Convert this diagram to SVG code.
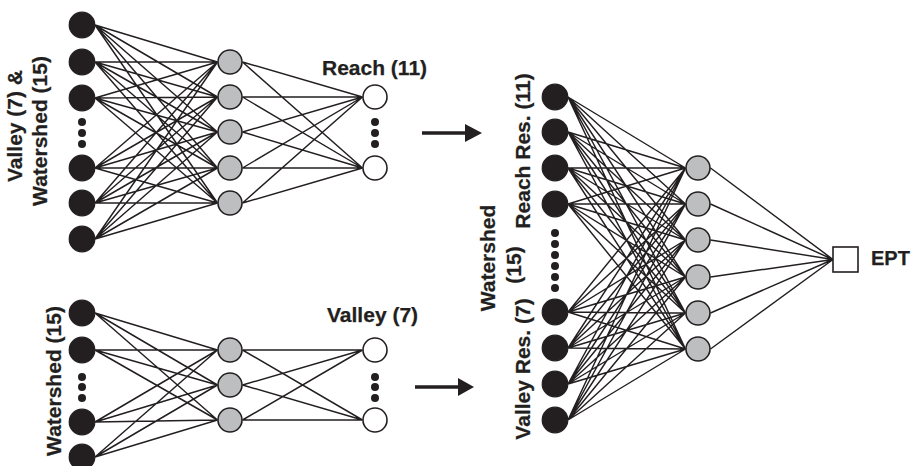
<svg xmlns="http://www.w3.org/2000/svg" width="911" height="466" viewBox="0 0 911 466">
<style>
.in{fill:#231f20;stroke:#231f20;stroke-width:1.2}
.hid{fill:#bcbec0;stroke:#231f20;stroke-width:1.6}
.out{fill:#fff;stroke:#231f20;stroke-width:1.6}
.dot{fill:#231f20}
.edge{fill:none;stroke:#231f20;stroke-width:1.45}
.arr{stroke:#231f20;stroke-width:3.5}
.head{fill:#231f20}
text{font-family:"Liberation Sans",Arial,sans-serif;font-weight:bold;font-size:21px;fill:#231f20;stroke:#231f20;stroke-width:0.25}
</style>
<rect width="911" height="466" fill="#fff"/>
<g id="connectors">
<path class="edge" d="M95 25L217.5 62M95 25L217.5 97M95 25L217.5 132M95 25L217.5 168M95 25L217.5 203
M95 62L217.5 62M95 62L217.5 97M95 62L217.5 132M95 62L217.5 168M95 62L217.5 203
M95 98L217.5 62M95 98L217.5 97M95 98L217.5 132M95 98L217.5 168M95 98L217.5 203
M95 168L217.5 62M95 168L217.5 97M95 168L217.5 132M95 168L217.5 168M95 168L217.5 203
M95 203L217.5 62M95 203L217.5 97M95 203L217.5 132M95 203L217.5 168M95 203L217.5 203
M95 239L217.5 62M95 239L217.5 97M95 239L217.5 132M95 239L217.5 168M95 239L217.5 203
M242.5 62L362.5 97M242.5 62L362.5 168M242.5 97L362.5 97M242.5 97L362.5 168M242.5 132L362.5 97M242.5 132L362.5 168
M242.5 168L362.5 97M242.5 168L362.5 168M242.5 203L362.5 97M242.5 203L362.5 168"/>
<path class="edge" d="M95 313L217.5 350M95 313L217.5 385M95 313L217.5 420
M95 350L217.5 350M95 350L217.5 385M95 350L217.5 420
M95 422L217.5 350M95 422L217.5 385M95 422L217.5 420
M95 457L217.5 350M95 457L217.5 385M95 457L217.5 420
M242.5 350L362.5 350M242.5 350L362.5 420M242.5 385L362.5 350M242.5 385L362.5 420M242.5 420L362.5 350M242.5 420L362.5 420"/>
<path class="edge" d="M568 97L685.5 168M568 97L685.5 204M568 97L685.5 240M568 97L685.5 277M568 97L685.5 313M568 97L685.5 349
M568 132L685.5 168M568 132L685.5 204M568 132L685.5 240M568 132L685.5 277M568 132L685.5 313M568 132L685.5 349
M568 168L685.5 168M568 168L685.5 204M568 168L685.5 240M568 168L685.5 277M568 168L685.5 313M568 168L685.5 349
M568 204L685.5 168M568 204L685.5 204M568 204L685.5 240M568 204L685.5 277M568 204L685.5 313M568 204L685.5 349
M568 312L685.5 168M568 312L685.5 204M568 312L685.5 240M568 312L685.5 277M568 312L685.5 313M568 312L685.5 349
M568 348L685.5 168M568 348L685.5 204M568 348L685.5 240M568 348L685.5 277M568 348L685.5 313M568 348L685.5 349
M568 384L685.5 168M568 384L685.5 204M568 384L685.5 240M568 384L685.5 277M568 384L685.5 313M568 384L685.5 349
M568 420L685.5 168M568 420L685.5 204M568 420L685.5 240M568 420L685.5 277M568 420L685.5 313M568 420L685.5 349
M710.5 168L833 259.5M710.5 204L833 259.5M710.5 240L833 259.5M710.5 277L833 259.5M710.5 313L833 259.5M710.5 349L833 259.5"/>
<line class="arr" x1="422" y1="133" x2="467" y2="133"/>
<polygon class="head" points="465,124 482,133 465,142"/>
<line class="arr" x1="415" y1="387" x2="460" y2="387"/>
<polygon class="head" points="458,378 474,387 458,396"/>
</g>
<g id="net1-inputs">
<circle class="in" cx="82" cy="25" r="12.8"/><circle class="in" cx="82" cy="62" r="12.8"/><circle class="in" cx="82" cy="98" r="12.8"/>
<circle class="dot" cx="82" cy="122" r="4"/><circle class="dot" cx="82" cy="133" r="4"/><circle class="dot" cx="82" cy="144" r="4"/>
<circle class="in" cx="82" cy="168" r="12.8"/><circle class="in" cx="82" cy="203" r="12.8"/><circle class="in" cx="82" cy="239" r="12.8"/>
</g>
<g id="net1-hidden">
<circle class="hid" cx="230" cy="62" r="12"/><circle class="hid" cx="230" cy="97" r="12"/><circle class="hid" cx="230" cy="132" r="12"/><circle class="hid" cx="230" cy="168" r="12"/><circle class="hid" cx="230" cy="203" r="12"/>
</g>
<g id="net1-outputs">
<circle class="out" cx="375" cy="97" r="12"/>
<circle class="dot" cx="375" cy="122" r="4"/><circle class="dot" cx="375" cy="133" r="4"/><circle class="dot" cx="375" cy="144" r="4"/>
<circle class="out" cx="375" cy="168" r="12"/>
</g>
<g id="net2-inputs">
<circle class="in" cx="82" cy="313" r="12.8"/><circle class="in" cx="82" cy="350" r="12.8"/>
<circle class="dot" cx="82" cy="377" r="4"/><circle class="dot" cx="82" cy="387" r="4"/><circle class="dot" cx="82" cy="398" r="4"/>
<circle class="in" cx="82" cy="422" r="12.8"/><circle class="in" cx="82" cy="457" r="12.8"/>
</g>
<g id="net2-hidden">
<circle class="hid" cx="230" cy="350" r="12"/><circle class="hid" cx="230" cy="385" r="12"/><circle class="hid" cx="230" cy="420" r="12"/>
</g>
<g id="net2-outputs">
<circle class="out" cx="375" cy="350" r="12"/>
<circle class="dot" cx="375" cy="377" r="4"/><circle class="dot" cx="375" cy="387" r="4"/><circle class="dot" cx="375" cy="398" r="4"/>
<circle class="out" cx="375" cy="420" r="12"/>
</g>
<g id="net3-inputs">
<circle class="in" cx="555" cy="97" r="12.8"/><circle class="in" cx="555" cy="132" r="12.8"/><circle class="in" cx="555" cy="168" r="12.8"/><circle class="in" cx="555" cy="204" r="12.8"/>
<circle class="dot" cx="555" cy="233" r="4"/><circle class="dot" cx="555" cy="244" r="4"/><circle class="dot" cx="555" cy="255" r="4"/><circle class="dot" cx="555" cy="266" r="4"/><circle class="dot" cx="555" cy="277" r="4"/><circle class="dot" cx="555" cy="288" r="4"/>
<circle class="in" cx="555" cy="312" r="12.8"/><circle class="in" cx="555" cy="348" r="12.8"/><circle class="in" cx="555" cy="384" r="12.8"/><circle class="in" cx="555" cy="420" r="12.8"/>
</g>
<g id="net3-hidden">
<circle class="hid" cx="698" cy="168" r="12"/><circle class="hid" cx="698" cy="204" r="12"/><circle class="hid" cx="698" cy="240" r="12"/><circle class="hid" cx="698" cy="277" r="12"/><circle class="hid" cx="698" cy="313" r="12"/><circle class="hid" cx="698" cy="349" r="12"/>
</g>
<g id="net3-output">
<rect class="out" x="833" y="247" width="25" height="25"/>
</g>
<g id="labels">
<text transform="translate(22,126) rotate(-90)" text-anchor="middle">Valley (7) &amp;</text>
<text transform="translate(47,131) rotate(-90)" text-anchor="middle">Watershed (15)</text>
<text transform="translate(61,381) rotate(-90)" text-anchor="middle">Watershed (15)</text>
<text x="322" y="75">Reach (11)</text>
<text x="327" y="322">Valley (7)</text>
<text transform="translate(530,151) rotate(-90)" text-anchor="middle">Reach Res. (11)</text>
<text transform="translate(530,369) rotate(-90)" text-anchor="middle">Valley Res. (7)</text>
<text transform="translate(495,258) rotate(-90)" text-anchor="middle">Watershed</text>
<text transform="translate(521,265) rotate(-90)" text-anchor="middle">(15)</text>
<text x="871" y="265" style="font-size:20px">EPT</text>
</g>
</svg>
